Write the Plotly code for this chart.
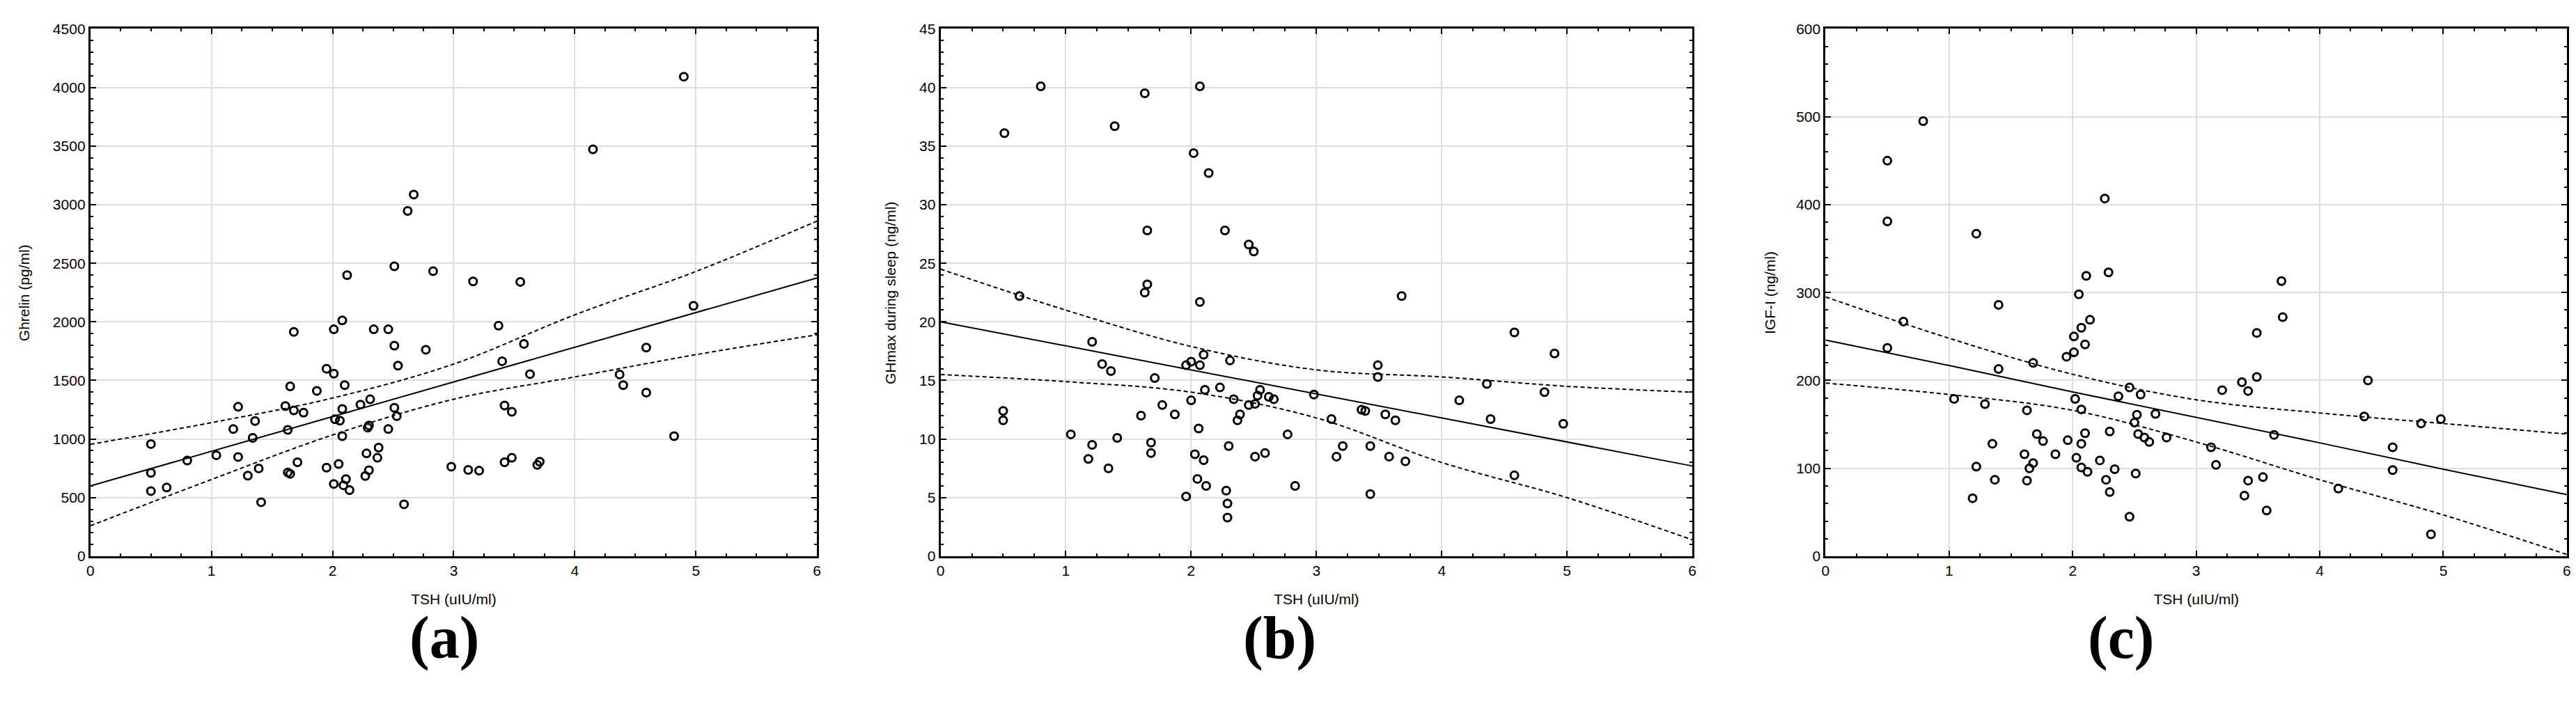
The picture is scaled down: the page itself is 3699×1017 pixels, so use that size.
import plotly.graph_objects as go

# TSH values
tsh_a = [0.50, 0.50, 0.50, 0.63, 0.80, 1.04, 1.18, 1.22, 1.22, 1.30, 1.34, 1.36, 1.39, 1.41,
         1.61, 1.63, 1.65, 1.63, 1.65, 1.68, 1.68, 1.71, 1.76, 1.87, 1.95, 1.95, 2.01, 2.01,
         2.02, 2.01, 2.05, 2.06, 2.08, 2.08, 2.08, 2.10, 2.09, 2.11, 2.12, 2.14, 2.23, 2.27,
         2.28, 2.29, 2.30, 2.31, 2.30, 2.34, 2.37, 2.38, 2.46, 2.46, 2.51, 2.51, 2.51, 2.53,
         2.54, 2.59, 2.62, 2.67, 2.77, 2.83, 2.98, 3.12, 3.16, 3.21, 3.37, 3.40, 3.42, 3.42,
         3.48, 3.48, 3.55, 3.58, 3.63, 3.69, 3.71, 4.15, 4.37, 4.40, 4.59, 4.59, 4.82, 4.90,
         4.98]
ghrelin = [957, 711, 556, 586, 817, 862, 1085, 1275, 847, 688, 1010, 1154, 749, 461,
           1282, 1078, 1449, 715, 703, 1914, 1244, 802, 1225, 1411, 1600, 756, 1936, 1558,
           1169, 617, 787, 1157, 2012, 1256, 1025, 1460, 605, 658, 2398, 564, 1294, 685,
           877, 1097, 1116, 1339, 734, 1936, 840, 927, 1936, 1085, 2474, 1797, 1267, 1195,
           1626, 443, 2946, 3086, 1762, 2432, 764, 737, 2345, 730, 1967, 1664, 1286, 802,
           1233, 840, 2341, 1812, 1554, 779, 806, 3472, 1551, 1460, 1781, 1396, 1025, 4092,
           2137]

tsh_b = [0.51, 0.50, 0.50, 0.63, 0.80, 1.04, 1.18, 1.21, 1.21, 1.29, 1.34, 1.36, 1.39, 1.41,
         1.60, 1.63, 1.63, 1.65, 1.65, 1.68, 1.68, 1.71, 1.77, 1.87, 1.96, 1.96, 2.00, 2.00,
         2.02, 2.03, 2.05, 2.06, 2.07, 2.07, 2.07, 2.10, 2.10, 2.11, 2.12, 2.14, 2.23, 2.27,
         2.28, 2.29, 2.29, 2.30, 2.31, 2.34, 2.37, 2.39, 2.46, 2.46, 2.50, 2.51, 2.51, 2.53,
         2.55, 2.59, 2.62, 2.66, 2.77, 2.83, 2.98, 3.12, 3.16, 3.21, 3.36, 3.39, 3.43, 3.43,
         3.49, 3.49, 3.55, 3.58, 3.63, 3.68, 3.71, 4.14, 4.36, 4.39, 4.58, 4.58, 4.82, 4.90,
         4.97]
ghmax = [36.1, 12.4, 11.6, 22.2, 40.1, 10.4, 8.3, 18.3, 9.5, 16.4, 7.5, 15.8, 36.7, 10.1,
         12.0, 39.5, 22.5, 27.8, 23.2, 9.7, 8.8, 15.2, 12.9, 12.1, 5.1, 16.3, 16.6, 13.3,
         34.4, 8.7, 6.6, 10.9, 16.3, 40.1, 21.7, 17.2, 8.2, 14.2, 6.0, 32.7, 14.4, 27.8,
         5.6, 4.5, 3.3, 9.4, 16.7, 13.4, 11.6, 12.1, 12.9, 26.6, 26.0, 13.0, 8.5, 13.7,
         14.2, 8.8, 13.6, 13.4, 10.4, 6.0, 13.8, 11.7, 8.5, 9.4, 12.5, 12.4, 9.4, 5.3,
         16.3, 15.3, 12.1, 8.5, 11.6, 22.2, 8.1, 13.3, 14.7, 11.7, 19.1, 6.9, 14.0, 17.3,
         11.3]

tsh_c = [0.50, 0.50, 0.50, 0.63, 0.79, 1.04, 1.19, 1.22, 1.22, 1.29, 1.35, 1.37, 1.40, 1.40,
         1.61, 1.63, 1.63, 1.65, 1.68, 1.68, 1.71, 1.76, 1.86, 1.95, 1.96, 2.01, 2.01, 2.02,
         2.03, 2.05, 2.07, 2.07, 2.07, 2.07, 2.10, 2.10, 2.11, 2.12, 2.14, 2.22, 2.26, 2.27,
         2.29, 2.30, 2.30, 2.34, 2.37, 2.46, 2.46, 2.50, 2.51, 2.52, 2.53, 2.55, 2.58, 2.62,
         2.67, 2.76, 3.12, 3.16, 3.21, 3.37, 3.39, 3.42, 3.42, 3.49, 3.49, 3.54, 3.57, 3.63,
         3.69, 3.70, 4.15, 4.36, 4.39, 4.59, 4.59, 4.82, 4.90, 4.98]
igf1 = [450, 381, 237, 267, 495, 179, 66, 367, 102, 173, 128, 87, 286, 213,
        116, 166, 86, 100, 106, 220, 139, 131, 116, 227, 132, 250, 232, 179,
        112, 298, 101, 167, 128, 260, 241, 140, 319, 96, 269, 109, 407, 87,
        323, 142, 73, 99, 182, 192, 45, 152, 94, 161, 139, 184, 135, 130,
        162, 135, 124, 104, 189, 198, 69, 188, 86, 254, 204, 90, 52, 138,
        313, 272, 77, 159, 200, 124, 98, 151, 25, 156]

# regression line and 95% band, read at whole TSH units
fit_x = [0, 1, 2, 3, 4, 5, 6]
ghrelin_fit = [600, 896, 1192, 1488, 1784, 2080, 2375]
ghrelin_hi = [955, 1140, 1350, 1640, 2060, 2430, 2860]
ghrelin_lo = [260, 655, 1035, 1340, 1530, 1720, 1890]
ghmax_fit = [20.0, 17.95, 15.9, 13.85, 11.8, 9.75, 7.7]
ghmax_hi = [24.5, 21.0, 17.9, 15.9, 15.3, 14.5, 14.0]
ghmax_lo = [15.5, 14.9, 14.0, 11.8, 8.0, 5.0, 1.4]
igf1_fit = [246, 217, 187, 158, 129, 99, 70]
igf1_hi = [295, 248, 207, 178, 163, 151, 139]
igf1_lo = [197, 184, 166, 130, 87, 47, 2]

panels = [
    ("", tsh_a, ghrelin, ghrelin_fit, ghrelin_hi, ghrelin_lo),
    ("2", tsh_b, ghmax, ghmax_fit, ghmax_hi, ghmax_lo),
    ("3", tsh_c, igf1, igf1_fit, igf1_hi, igf1_lo),
]

fig = go.Figure()
for n, xs, ys, fit, hi, lo in panels:
    xa, ya = "x" + n, "y" + n
    fig.add_trace(go.Scatter(x=xs, y=ys, mode="markers", xaxis=xa, yaxis=ya,
                             marker=dict(symbol="circle-open", size=11, color="black",
                                         line=dict(width=3, color="black"))))
    fig.add_trace(go.Scatter(x=fit_x, y=fit, mode="lines", xaxis=xa, yaxis=ya,
                             line=dict(color="black", width=2)))
    for band in (hi, lo):
        fig.add_trace(go.Scatter(x=fit_x, y=band, mode="lines", xaxis=xa, yaxis=ya,
                                 line=dict(color="black", width=2, dash="6px,4px",
                                           shape="spline")))

font = dict(family="Liberation Sans, Arial", size=21, color="black")


def xaxis(dom, anchor):
    return dict(domain=dom, anchor=anchor, range=[0, 6], dtick=1, showgrid=True,
                gridcolor="#dedede", gridwidth=2, zeroline=False, showline=True,
                linecolor="black", linewidth=3, mirror="allticks", ticks="inside",
                ticklen=8, tickwidth=2, tickcolor="black", tickfont=font,
                minor=dict(dtick=0.25, ticks="inside", ticklen=4, tickwidth=2,
                           tickcolor="black", showgrid=False),
                title=dict(text="TSH (uIU/ml)", font=font, standoff=24))


def yaxis(dom, anchor, top, step, sub):
    return dict(domain=dom, anchor=anchor, range=[0, top], dtick=step, showgrid=True,
                gridcolor="#dedede", gridwidth=2, zeroline=False, showline=True,
                linecolor="black", linewidth=3, mirror="allticks", ticks="inside",
                ticklen=8, tickwidth=2, tickcolor="black", tickfont=font,
                minor=dict(dtick=sub, ticks="inside", ticklen=4, tickwidth=2,
                           tickcolor="black", showgrid=False))


ydom = [0.2163, 0.9784]
fig.update_layout(
    width=3699, height=1017, showlegend=False,
    paper_bgcolor="white", plot_bgcolor="white",
    margin=dict(l=0, r=0, t=0, b=0),
    xaxis=xaxis([0.0314, 0.3144], "y"),
    xaxis2=xaxis([0.3625, 0.6553], "y2"),
    xaxis3=xaxis([0.7072, 0.9959], "y3"),
    yaxis=yaxis(ydom, "x", 4500, 500, 100),
    yaxis2=yaxis(ydom, "x2", 45, 5, 1),
    yaxis3=yaxis(ydom, "x3", 600, 100, 20),
)

ytitles = [("Ghrelin (pg/ml)", 20), ("GHmax during sleep (ng/ml)", 1268), ("IGF-I (ng/ml)", 2535)]
for text, px in ytitles:
    fig.add_annotation(text=text, x=px / 3699, y=sum(ydom) / 2, xref="paper", yref="paper",
                       textangle=-90, showarrow=False, font=font, xanchor="center")

letters = [("(a)", 574), ("(b)", 1829), ("(c)", 3091)]
for text, px in letters:
    fig.add_annotation(text="<b>" + text + "</b>", x=px / 3699, y=1 - 968 / 1017,
                       xref="paper", yref="paper", showarrow=False,
                       font=dict(family="Liberation Serif, Times New Roman", size=86,
                                 color="black"))

fig.write_html("out.html")
